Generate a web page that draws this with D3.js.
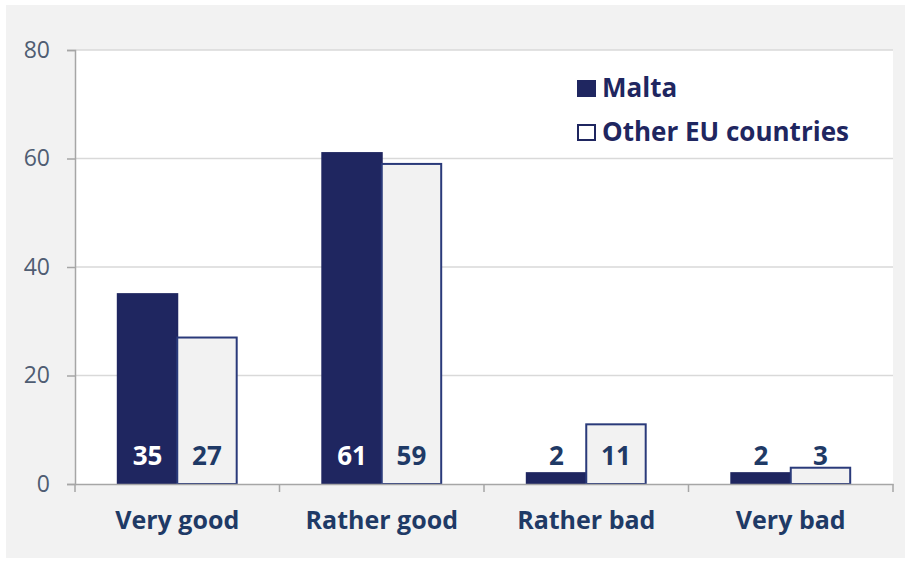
<!DOCTYPE html>
<html>
<head>
<meta charset="utf-8">
<script src="https://cdn.jsdelivr.net/npm/d3@7"></script>
<style>
  html, body { margin: 0; padding: 0; background: #fff; }
  svg { display: block; }
</style>
</head>
<body>
<div id="chart"></div>
<script>
// Données
const categories = ['Very good', 'Rather good', 'Rather bad', 'Very bad'];
const seriesNames = ['Malta', 'Other EU countries'];
const malta = [35, 61, 2, 2];
const otherEU = [27, 59, 11, 3];
const yTicks = [0, 20, 40, 60, 80];

const W = 911, H = 563;
const margin = { top: 50, right: 18, bottom: 79, left: 75 };
const NAVY = '#1f2660';
const TEXT_NAVY = '#1f3a66';

const svg = d3.select('#chart').append('svg')
    .attr('width', W).attr('height', H);

// fond extérieur gris clair
svg.append('rect')
    .attr('x', 6).attr('y', 5)
    .attr('width', W - 12).attr('height', H - 10)
    .attr('fill', '#f2f2f2');

const x0 = d3.scaleBand()
    .domain(categories)
    .range([margin.left, W - margin.right])
    .paddingInner(0).paddingOuter(0);

const x1 = d3.scaleBand()
    .domain(seriesNames)
    .range([0, x0.bandwidth()])
    .paddingOuter(0.72).paddingInner(0);

const y = d3.scaleLinear()
    .domain([0, 80])
    .range([H - margin.bottom, margin.top]);

// zone de tracé blanche
svg.append('rect')
    .attr('x', margin.left).attr('y', margin.top)
    .attr('width', W - margin.right - margin.left)
    .attr('height', H - margin.bottom - margin.top)
    .attr('fill', '#fff');

// grille
svg.append('g')
    .selectAll('line')
    .data(yTicks.filter(d => d > 0))
    .join('line')
    .attr('x1', margin.left).attr('x2', W - margin.right)
    .attr('y1', d => y(d)).attr('y2', d => y(d))
    .attr('stroke', '#d9d9d9').attr('stroke-width', 1.5);

// axe Y
const yAxis = svg.append('g')
    .attr('transform', `translate(${margin.left},0)`)
    .call(d3.axisLeft(y).tickValues(yTicks).tickSize(8).tickPadding(17));
yAxis.select('.domain').attr('stroke', '#a6a6a6').attr('stroke-width', 1.5);
yAxis.selectAll('.tick line').attr('stroke', '#a6a6a6').attr('stroke-width', 1.5);
yAxis.selectAll('text')
    .attr('fill', '#4f5d72')
    .style('font-family', '"Open Sans", sans-serif')
    .style('font-size', '23px');

// barres
const groups = svg.append('g')
    .selectAll('g')
    .data(categories.map((c, i) => ({ cat: c, vals: [malta[i], otherEU[i]] })))
    .join('g')
    .attr('transform', d => `translate(${x0(d.cat)},0)`);

groups.selectAll('rect')
    .data(d => d.vals.map((v, j) => ({ name: seriesNames[j], v })))
    .join('rect')
    .attr('x', d => x1(d.name))
    .attr('y', d => y(d.v))
    .attr('width', x1.bandwidth())
    .attr('height', d => y(0) - y(d.v))
    .attr('fill', d => d.name === 'Malta' ? NAVY : '#f2f2f2')
    .attr('stroke', d => d.name === 'Malta' ? NAVY : '#2a3a7a')
    .attr('stroke-width', 2);

// étiquettes de valeurs
groups.selectAll('text')
    .data(d => d.vals.map((v, j) => ({ name: seriesNames[j], v })))
    .join('text')
    .attr('x', d => x1(d.name) + x1.bandwidth() / 2)
    .attr('y', y(0) - 19)
    .attr('text-anchor', 'middle')
    .attr('fill', d => (d.name === 'Malta' && d.v > 5) ? '#fff' : TEXT_NAVY)
    .style('font-family', '"Open Sans", sans-serif')
    .style('font-weight', 'bold')
    .style('font-size', '26px')
    .text(d => d.v);

// axe X
const xAxis = svg.append('g')
    .attr('transform', `translate(0,${y(0)})`)
    .call(d3.axisBottom(x0).tickSize(0).tickPadding(27));
xAxis.select('.domain').attr('stroke', '#a6a6a6').attr('stroke-width', 1.5);
xAxis.selectAll('text')
    .attr('fill', TEXT_NAVY)
    .style('font-family', '"Open Sans", sans-serif')
    .style('font-weight', 'bold')
    .style('font-size', '25px');

// graduations entre catégories
const bounds = categories.map(c => x0(c)).concat([W - margin.right]);
svg.append('g')
    .selectAll('line')
    .data(bounds)
    .join('line')
    .attr('x1', d => d).attr('x2', d => d)
    .attr('y1', y(0)).attr('y2', y(0) + 8)
    .attr('stroke', '#a6a6a6').attr('stroke-width', 1.5);

// légende
const legend = svg.append('g').attr('transform', 'translate(577,79)');
seriesNames.forEach((name, i) => {
    const g = legend.append('g').attr('transform', `translate(0,${i * 44})`);
    g.append('rect')
        .attr('x', 1).attr('y', 2)
        .attr('width', 17).attr('height', 15)
        .attr('fill', i === 0 ? NAVY : '#fff')
        .attr('stroke', NAVY).attr('stroke-width', 2);
    g.append('text')
        .attr('x', 25).attr('y', 18)
        .attr('fill', NAVY)
        .style('font-family', '"Open Sans", sans-serif')
        .style('font-weight', 'bold')
        .style('font-size', '26px')
        .text(name);
});
</script>
</body>
</html>
